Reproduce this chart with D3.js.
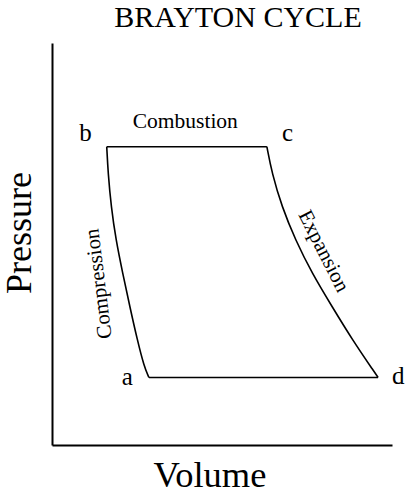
<!DOCTYPE html>
<html>
<head>
<meta charset="utf-8">
<script src="https://cdn.jsdelivr.net/npm/d3@7"></script>
<style>
  html, body { margin: 0; padding: 0; background: #fff; }
  svg { display: block; font-family: "Liberation Serif", "Times New Roman", serif; }
</style>
</head>
<body>
<svg id="chart" width="405" height="496"></svg>
<script>
// ---- data (volume, pressure in arbitrary units 0-100) ----
const title = "BRAYTON CYCLE";
const xLabel = "Volume";
const yLabel = "Pressure";

// compression a -> b (listed from b down to a)
const compressionV = [16.1, 16.5, 17.4, 18.8, 20.8, 22.9, 25.1, 27.1, 28.5];
const compressionP = [74.2, 67.6, 59.3, 51.0, 42.7, 34.4, 26.1, 19.5, 16.8];
// expansion c -> d
const expansionV = [63.2, 64.7, 67.6, 71.6, 76.5, 82.4, 88.4, 95.1, 95.9];
const expansionP = [74.2, 67.6, 59.3, 51.0, 42.7, 34.4, 26.1, 17.8, 16.8];

const stateNames = ["a", "b", "c", "d"];
const stateV = [28.5, 16.1, 63.2, 95.9];
const stateP = [16.8, 74.2, 74.2, 16.8];

const processNames = ["Combustion", "Compression", "Expansion"];

// ---- layout ----
const svg = d3.select("#chart");
const mLeft = 52, mRight = 392, mTop = 43, mBottom = 445;

const x = d3.scaleLinear().domain([0, 100]).range([mLeft, mRight]);
const y = d3.scaleLinear().domain([0, 100]).range([mBottom, mTop]);

// axes (no ticks)
svg.append("g")
  .attr("transform", `translate(0,${mBottom})`)
  .call(d3.axisBottom(x).ticks(0).tickSizeOuter(0))
  .call(g => g.select(".domain").attr("stroke", "#000").attr("stroke-width", 2));
svg.append("g")
  .attr("transform", `translate(${mLeft},0)`)
  .call(d3.axisLeft(y).ticks(0).tickSizeOuter(0))
  .call(g => g.select(".domain").attr("stroke", "#000").attr("stroke-width", 2));

// cycle path
const line = d3.line().x(d => x(d[0])).y(d => y(d[1])).curve(d3.curveBasis);
const comp = compressionV.map((v, i) => [v, compressionP[i]]);
const exp = expansionV.map((v, i) => [v, expansionP[i]]);

const straight = d3.line().x(d => x(d[0])).y(d => y(d[1]));
const gc = svg.append("g").attr("fill", "none").attr("stroke", "#000").attr("stroke-width", 1.6);
gc.append("path").attr("d", line(comp));
gc.append("path").attr("d", line(exp));
gc.append("path").attr("d", straight([[stateV[1], stateP[1]], [stateV[2], stateP[2]]]));
gc.append("path").attr("d", straight([[stateV[0], stateP[0]], [stateV[3], stateP[3]]]));

// state labels
const stateOffsets = { a: [-16, 8, "end"], b: [-15, -6, "end"], c: [15, -6, "start"], d: [14, 7, "start"] };
stateNames.forEach((n, i) => {
  const o = stateOffsets[n];
  svg.append("text")
    .attr("x", x(stateV[i]) + o[0])
    .attr("y", y(stateP[i]) + o[1])
    .attr("text-anchor", o[2])
    .attr("font-size", 25)
    .text(n);
});

// process labels
svg.append("text")
  .attr("x", (x(stateV[1]) + x(stateV[2])) / 2 - 1.5)
  .attr("y", y(stateP[1]) - 19)
  .attr("text-anchor", "middle")
  .attr("font-size", 21.5)
  .text(processNames[0]);

svg.append("text")
  .attr("transform", `translate(105,283) rotate(-97)`)
  .attr("text-anchor", "middle")
  .attr("font-size", 21)
  .text(processNames[1]);

svg.append("text")
  .attr("transform", `translate(318,254) rotate(63)`)
  .attr("text-anchor", "middle")
  .attr("font-size", 21)
  .text(processNames[2]);

// titles
svg.append("text")
  .attr("x", 238).attr("y", 27)
  .attr("text-anchor", "middle")
  .attr("font-size", 30)
  .text(title);

svg.append("text")
  .attr("x", 210).attr("y", 487)
  .attr("text-anchor", "middle")
  .attr("font-size", 36.5)
  .text(xLabel);

svg.append("text")
  .attr("transform", `translate(31,233) rotate(-90)`)
  .attr("text-anchor", "middle")
  .attr("font-size", 36)
  .text(yLabel);
</script>
</body>
</html>
